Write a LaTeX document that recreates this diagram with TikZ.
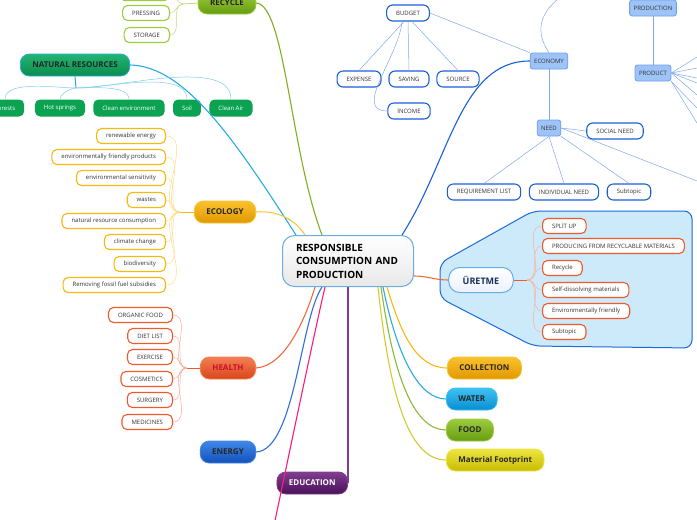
\documentclass[tikz,border=0pt]{standalone}
\usepackage{fontspec}
\setmainfont{Open Sans}
\usepackage{xcolor}
\usepackage{tikz}
\usetikzlibrary{positioning}

\definecolor{recl}{HTML}{9DCC40}
\definecolor{recd}{HTML}{679C10}
\definecolor{natl}{HTML}{22B573}
\definecolor{natd}{HTML}{0C8C4C}
\definecolor{natleaf}{HTML}{0BA352}
\definecolor{skyline}{HTML}{29ABE2}
\definecolor{ecol}{HTML}{F9C22E}
\definecolor{ecod}{HTML}{E29800}
\definecolor{ecoline}{HTML}{F6B812}
\definecolor{heal}{HTML}{F47E54}
\definecolor{head}{HTML}{DA461A}
\definecolor{heatext}{HTML}{C8102E}
\definecolor{healine}{HTML}{F0592A}
\definecolor{enel}{HTML}{4088E8}
\definecolor{ened}{HTML}{1350BA}
\definecolor{eneline}{HTML}{2E6FDA}
\definecolor{edul}{HTML}{803E90}
\definecolor{edud}{HTML}{4A1158}
\definecolor{wate}{HTML}{3EC2F3}
\definecolor{watd}{HTML}{078ED0}
\definecolor{matl}{HTML}{EDE542}
\definecolor{matd}{HTML}{C8BC00}
\definecolor{econfill}{HTML}{9DC3F7}
\definecolor{econdraw}{HTML}{6E9FEF}
\definecolor{econblue}{HTML}{1B5FD8}
\definecolor{econline}{HTML}{7FA8EE}
\definecolor{corebord}{HTML}{66AEE4}
\definecolor{callfill}{HTML}{CDEAFA}
\definecolor{callbord}{HTML}{1D6ADB}
\definecolor{uretext}{HTML}{16305A}
\definecolor{pinkline}{HTML}{FF1B7A}

\begin{document}
\begin{tikzpicture}[x=1pt,y=-1pt,
  leaf/.style={draw,rectangle,rounded corners=5pt,fill=white,line width=1.1pt,minimum height=15pt,inner xsep=9.5pt,inner ysep=0pt,font=\fontsize{6}{7}\selectfont,text=black!80},
  recleaf/.style={leaf,draw=recl},
  ecoleaf/.style={leaf,draw=ecoline},
  healeaf/.style={leaf,draw=healine},
  ureleaf/.style={leaf,draw=healine},
  econleaf/.style={leaf,draw=econblue,rounded corners=6pt,minimum height=16pt},
  econnode/.style={draw=econdraw,fill=econfill,rectangle,rounded corners=2.5pt,line width=0.8pt,inner xsep=4pt,inner ysep=0pt,minimum height=16pt,font=\fontsize{6}{7}\selectfont,text=black!80},
  natleafs/.style={rectangle,rounded corners=5pt,fill=natleaf,minimum height=17pt,inner xsep=9pt,inner ysep=0pt,font=\fontsize{6}{7}\selectfont,text=white},
  topic/.style={rectangle,rounded corners=9pt,line width=0.8pt,minimum height=22pt,inner xsep=12pt,inner ysep=0pt,font=\bfseries\fontsize{8}{9}\selectfont,text=black!85},
  rectopic/.style={topic,top color=recl,bottom color=recd,draw=recl},
  nattopic/.style={topic,top color=natl,bottom color=natd,draw=skyline},
  ecotopic/.style={topic,top color=ecol,bottom color=ecod,draw=ecol},
  heatopic/.style={topic,top color=heal,bottom color=head,draw=heal,text=heatext},
  enetopic/.style={topic,top color=enel,bottom color=ened,draw=enel},
  edutopic/.style={topic,top color=edul,bottom color=edud,draw=edul,text=white},
  wattopic/.style={topic,top color=wate,bottom color=watd,draw=wate},
  foodtopic/.style={topic,top color=recl,bottom color=recd,draw=recl},
  mattopic/.style={topic,top color=matl,bottom color=matd,draw=matl},
  core/.style={rectangle,rounded corners=12pt,top color=white,bottom color=black!9,draw=corebord,line width=1pt,text width=104pt,align=left,minimum height=51pt,inner xsep=13.5pt,font=\bfseries\fontsize{10}{13.5}\selectfont},
  uretopic/.style={topic,rounded corners=11pt,top color=white,bottom color=callfill!80!blue!20,draw=corebord,line width=1pt,minimum height=25pt,font=\bfseries\fontsize{9}{10}\selectfont,text=uretext,inner xsep=14pt},
  branch/.style={line width=1.1pt},
  twig/.style={line width=0.5pt}
]
\useasboundingbox (0,0) rectangle (697,520);

% ÜRETME callout
\draw[fill=callfill,draw=callbord,line width=1pt,rounded corners=8pt]
  (533,211) -- (692,211) -- (692,348) -- (533,346) -- (440,298) -- (440,263) -- cycle;

% Centre
\node[core] (core) at (348,261) {RESPONSIBLE\\CONSUMPTION AND\\PRODUCTION};

% Recycle
\node[rectopic] (recycle) at (227,3) {RECYCLE};
\node[recleaf,minimum width=50pt,anchor=east] (rectop) at (170,-7) {};
\node[recleaf,anchor=east] (pressing) at (170,13) {PRESSING};
\node[recleaf,anchor=east] (storage) at (170,35) {STORAGE};
\coordinate (recfork) at (183,4);

% Natural resources
\node[nattopic] (natres) at (75,65) {NATURAL RESOURCES};
\node[natleafs] (forests) at (5,108) {Forests};
\node[natleafs] (hotspr) at (60,108) {Hot springs};
\node[natleafs] (cleanenv) at (129,108) {Clean environment};
\node[natleafs] (soil) at (187,108) {Soil};
\node[natleafs] (cleanair) at (231,108) {Clean Air};
\coordinate (natfork) at (76,88);

% Ecology
\node[ecotopic] (ecology) at (225,212) {ECOLOGY};
\node[ecoleaf,anchor=east] (renew) at (166,136) {renewable energy};
\node[ecoleaf,anchor=east] (friendly) at (166,157) {environmentally friendly products};
\node[ecoleaf,anchor=east] (sensit) at (166,178) {environmental sensitivity};
\node[ecoleaf,anchor=east] (wastes) at (166,200) {wastes};
\node[ecoleaf,anchor=east] (natcons) at (166,221) {natural resource consumption};
\node[ecoleaf,anchor=east] (climate) at (166,242) {climate change};
\node[ecoleaf,anchor=east] (biodiv) at (166,264) {biodiversity};
\node[ecoleaf,anchor=east] (fossil) at (166,285) {Removing fossil fuel subsidies};
\coordinate (ecofork) at (180,212);

% Health
\node[heatopic] (health) at (228,368) {HEALTH};
\node[healeaf,anchor=east] (organic) at (173,315) {ORGANIC FOOD};
\node[healeaf,anchor=east] (diet) at (173,336) {DIET LIST};
\node[healeaf,anchor=east] (exercise) at (173,357) {EXERCISE};
\node[healeaf,anchor=east] (cosmetics) at (173,379) {COSMETICS};
\node[healeaf,anchor=east] (surgery) at (173,400) {SURGERY};
\node[healeaf,anchor=east] (medicines) at (173,422) {MEDICINES};
\coordinate (heafork) at (187,368);

% Energy, education
\node[enetopic] (energy) at (228,452) {ENERGY};
\node[edutopic,anchor=east] (education) at (348,483) {EDUCATION};
\coordinate (pinkend) at (272,535);

% Economy
\node[econnode] (economy) at (549,61) {ECONOMY};
\node[econleaf] (budget) at (408,13) {BUDGET};
\node[econleaf] (expense) at (359,79) {EXPENSE};
\node[econleaf] (saving) at (409,79) {SAVING};
\node[econleaf] (source) at (458,79) {SOURCE};
\node[econleaf] (income) at (409,111) {İNCOME};
\node[econnode] (need) at (549,128) {NEED};
\node[econleaf] (socneed) at (615,131) {SOCIAL NEED};
\node[econleaf] (reqlist) at (484,192) {REQUIREMENT LIST};
\node[econleaf] (indneed) at (564,192) {INDIVIDUAL NEED};
\node[econleaf] (needsub) at (629,192) {Subtopic};
\node[econnode] (production) at (653,8) {PRODUCTION};
\node[econnode] (product) at (653,73) {PRODUCT};
\coordinate (econtop) at (565,-6);
\coordinate (prodtop) at (642,-6);
\coordinate (needout) at (697,181);
\coordinate (prod1) at (697,57);
\coordinate (prod2) at (697,68);
\coordinate (prod3) at (697,78);
\coordinate (prod4) at (697,83);
\coordinate (prod5) at (697,95);
\coordinate (prod6) at (697,108);
\coordinate (prod7) at (697,123);

% Uretme
\node[uretopic] (uretme) at (481,280) {ÜRETME};
\node[ureleaf,anchor=west] (split) at (542,226) {SPLİT UP};
\node[ureleaf,anchor=west] (recmat) at (542,246) {PRODUCING FROM RECYCLABLE MATERIALS};
\node[ureleaf,anchor=west] (urecyc) at (542,268) {Recycle};
\node[ureleaf,anchor=west] (selfdis) at (542,290) {Self-dissolving materials};
\node[ureleaf,anchor=west] (envfr) at (542,311) {Environmentally friendly};
\node[ureleaf,anchor=west] (uresub) at (542,332) {Subtopic};
\coordinate (urefork) at (527,280);

% Right-hand topics
\node[ecotopic,anchor=west] (collection) at (447,368) {COLLECTION};
\node[wattopic,anchor=west] (water) at (446,399) {WATER};
\node[foodtopic,anchor=west] (food) at (446,430) {FOOD};
\node[mattopic,anchor=west] (material) at (446,460) {Material Footprint};

% Main branches
\draw[branch,recd!60!recl] (recycle.east) .. controls (285,5) and (290,150) .. ([xshift=-26pt]core.north);
\draw[branch,skyline] (natres.east) .. controls (185,66) and (235,140) .. ([xshift=-52pt]core.north);
\draw[branch,ecoline!80] (ecology.east) .. controls (280,210) and (297,222) .. ([xshift=-43pt]core.north);
\draw[branch,healine!90] (health.east) .. controls (285,366) and (305,320) .. ([xshift=-33pt]core.south);
\draw[branch,eneline] (energy.east) .. controls (295,450) and (300,320) .. ([xshift=-26pt]core.south);
\draw[branch,pinkline] ([xshift=-23pt]core.south) .. controls (315,330) and (292,440) .. (pinkend);
\draw[branch,edul] (core.south -| education.east) -- (education.east);
\draw[branch,econblue] ([xshift=54pt]core.north) .. controls (450,160) and (460,61) .. (economy.west);
\draw[branch,healine!90] ([yshift=-15pt]core.east) to[out=0,in=180] (uretme.west);
\draw[branch,ecoline] ([xshift=39pt]core.south) .. controls (400,330) and (415,368) .. (collection.west);
\draw[branch,skyline] ([xshift=35pt]core.south) .. controls (398,360) and (420,399) .. (water.west);
\draw[branch,recl!90!black] ([xshift=33pt]core.south) .. controls (394,380) and (415,430) .. (food.west);
\draw[branch,matd!80] ([xshift=30pt]core.south) .. controls (390,400) and (410,460) .. (material.west);

% Recycle twigs
\draw[twig,recl] (recycle.west) -- (recfork);
\draw[twig,recl!70] (recfork) to[out=180,in=0] (rectop.east);
\draw[twig,recl!70] (recfork) to[out=180,in=0] (pressing.east);
\draw[twig,recl!70] (recfork) to[out=180,in=0] (storage.east);

% Natural resources twigs
\draw[line width=1pt,skyline] (natres.south) -- (natfork);
\draw[twig,skyline!60] (natfork) to[out=180,in=90,looseness=0.7] (forests.north);
\draw[twig,skyline!60] (natfork) to[out=180,in=90,looseness=0.7] (hotspr.north);
\draw[twig,skyline!60] (natfork) to[out=0,in=90,looseness=0.7] (cleanenv.north);
\draw[twig,skyline!60] (natfork) to[out=0,in=90,looseness=0.7] (soil.north);
\draw[twig,skyline!60] (natfork) to[out=0,in=90,looseness=0.7] (cleanair.north);

% Ecology twigs
\draw[twig,ecoline] (ecology.west) -- (ecofork);
\draw[twig,ecoline!50] (ecofork) to[out=180,in=0] (renew.east);
\draw[twig,ecoline!50] (ecofork) to[out=180,in=0] (friendly.east);
\draw[twig,ecoline!50] (ecofork) to[out=180,in=0] (sensit.east);
\draw[twig,ecoline!50] (ecofork) to[out=180,in=0] (wastes.east);
\draw[twig,ecoline!50] (ecofork) to[out=180,in=0] (natcons.east);
\draw[twig,ecoline!50] (ecofork) to[out=180,in=0] (climate.east);
\draw[twig,ecoline!50] (ecofork) to[out=180,in=0] (biodiv.east);
\draw[twig,ecoline!50] (ecofork) to[out=180,in=0] (fossil.east);

% Health twigs
\draw[twig,healine] (health.west) -- (heafork);
\draw[twig,healine!50] (heafork) to[out=180,in=0] (organic.east);
\draw[twig,healine!50] (heafork) to[out=180,in=0] (diet.east);
\draw[twig,healine!50] (heafork) to[out=180,in=0] (exercise.east);
\draw[twig,healine!50] (heafork) to[out=180,in=0] (cosmetics.east);
\draw[twig,healine!50] (heafork) to[out=180,in=0] (surgery.east);
\draw[twig,healine!50] (heafork) to[out=180,in=0] (medicines.east);

% Uretme twigs
\draw[twig,healine] (uretme.east) -- (urefork);
\draw[twig,healine!45] (urefork) to[out=0,in=180] (split.west);
\draw[twig,healine!45] (urefork) to[out=0,in=180] (recmat.west);
\draw[twig,healine!45] (urefork) to[out=0,in=180] (urecyc.west);
\draw[twig,healine!45] (urefork) to[out=0,in=180] (selfdis.west);
\draw[twig,healine!45] (urefork) to[out=0,in=180] (envfr.west);
\draw[twig,healine!45] (urefork) to[out=0,in=180] (uresub.west);

% Economy twigs
\draw[twig,econline] (budget.east) -- (economy.north west);
\draw[twig,econline] ([xshift=-4pt]budget.south) -- (expense.north);
\draw[twig,econline] (budget.south) -- (saving.north);
\draw[twig,econline] ([xshift=4pt]budget.south) -- (source.north);
\draw[twig,econline] ([xshift=-6pt]budget.south) to[out=-95,in=180] (income.west);
\draw[twig,econline] (economy.south) -- (need.north);
\draw[twig,econline] (economy.north) .. controls (530,25) and (548,5) .. (econtop);
\draw[twig,econline] (need.east) -- (socneed.west);
\draw[twig,econline] (need.south) -- (reqlist.north);
\draw[twig,econline] (need.south) -- (indneed.north);
\draw[twig,econline] (need.south east) -- (needsub.north);
\draw[twig,econline] (need.east) -- (needout);
\draw[twig,econline] (production.north) -- (prodtop);
\draw[twig,econline] (production.south) -- (product.north);
\draw[twig,econline] (product.east) -- (prod1);
\draw[twig,econline] (product.east) -- (prod2);
\draw[twig,econline] (product.east) -- (prod3);
\draw[twig,econline] (product.east) -- (prod4);
\draw[twig,econline] (product.east) -- (prod5);
\draw[twig,econline] (product.south east) -- (prod6);
\draw[twig,econline] (product.south east) -- (prod7);

\end{tikzpicture}
\end{document}
